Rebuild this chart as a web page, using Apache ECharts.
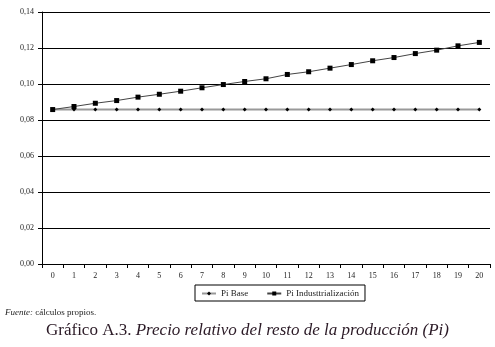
<!DOCTYPE html>
<html>
<head>
<meta charset="utf-8">
<script src="https://cdn.jsdelivr.net/npm/echarts@6/dist/echarts.min.js"></script>
<style>
  html, body { margin: 0; padding: 0; background: #fff; }
  #chart { width: 495px; height: 347px; }
</style>
</head>
<body>
<div id="chart"></div>
<script>
const years = ['0','1','2','3','4','5','6','7','8','9','10','11','12','13','14','15','16','17','18','19','20']
const piBase = [0.0858,0.0858,0.0858,0.0858,0.0858,0.0858,0.0858,0.0858,0.0858,0.0858,0.0858,
  0.0858,0.0858,0.0858,0.0858,0.0858,0.0858,0.0858,0.0858,0.0858,0.0858]
const piIndustria = [0.0858,0.0875,0.0893,0.0908,0.0927,0.0943,0.0960,0.0979,0.0997,0.1014,0.1029,
  0.1053,0.1068,0.1088,0.1108,0.1129,0.1147,0.1169,0.1188,0.1212,0.1231]

const serif = '"Liberation Serif", "DejaVu Serif", serif'
const chart = echarts.init(document.getElementById('chart'))

chart.setOption({
  backgroundColor: '#fff',
  animation: false,
  grid: { left: 42, right: 5, top: 12, bottom: 83 },
  xAxis: {
    type: 'category',
    data: years,
    boundaryGap: true,
    axisLine: { lineStyle: { color: '#000', width: 1 } },
    axisTick: { show: true, alignWithLabel: false, length: 4, lineStyle: { color: '#000' } },
    axisLabel: { color: '#222', fontFamily: serif, fontSize: 8, margin: 8 },
    splitLine: { show: false }
  },
  yAxis: {
    type: 'value',
    min: 0,
    max: 0.14,
    interval: 0.02,
    axisLine: { show: true, lineStyle: { color: '#000', width: 1 } },
    axisTick: { show: true, length: 4, lineStyle: { color: '#000' } },
    axisLabel: {
      color: '#222', fontFamily: serif, fontSize: 8, margin: 8,
      formatter: v => v.toFixed(2).replace('.', ',')
    },
    splitLine: { lineStyle: { color: '#000', width: 1 } }
  },
  legend: {
    top: 285,
    left: 195,
    itemWidth: 14,
    itemHeight: 5,
    itemGap: 18,
    padding: [4, 6, 3, 6],
    borderColor: '#000',
    borderWidth: 1,
    textStyle: { fontFamily: serif, fontSize: 9, color: '#222' },
    data: ['Pi Base', 'Pi Industtrialización']
  },
  graphic: [
    {
      type: 'text', left: 5, top: 308,
      style: {
        text: '{i|Fuente:} cálculos propios.',
        font: '9px ' + serif, fill: '#222',
        rich: { i: { fontStyle: 'italic', fontFamily: serif, fontSize: 9, fill: '#222' } }
      }
    },
    {
      type: 'text', left: 'center', top: 322,
      style: {
        text: 'Gráfico A.3. {i|Precio relativo del resto de la producción (Pi)}',
        font: '17px ' + serif, fill: '#2b1a26',
        rich: { i: { fontStyle: 'italic', fontFamily: serif, fontSize: 17, fill: '#2b1a26' } }
      }
    }
  ],
  series: [
    {
      name: 'Pi Base',
      type: 'line',
      data: piBase,
      symbol: 'diamond',
      symbolSize: 4,
      itemStyle: { color: '#000' },
      lineStyle: { color: '#999', width: 2 }
    },
    {
      name: 'Pi Industtrialización',
      type: 'line',
      data: piIndustria,
      symbol: 'rect',
      symbolSize: 5,
      itemStyle: { color: '#000' },
      lineStyle: { color: '#444', width: 1 }
    }
  ]
})
</script>
</body>
</html>
